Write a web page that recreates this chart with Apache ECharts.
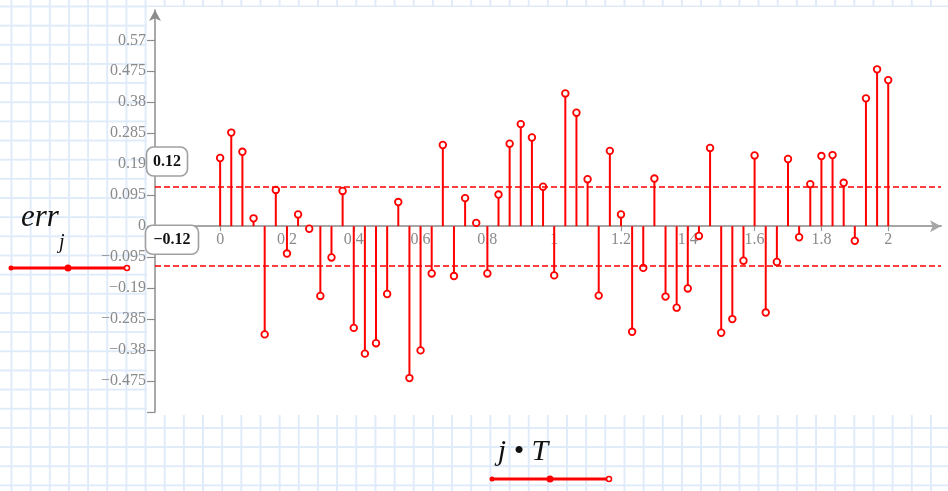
<!DOCTYPE html>
<html><head><meta charset="utf-8">
<script src="https://cdn.jsdelivr.net/npm/echarts@6/dist/echarts.min.js"></script>
<style>
html,body{margin:0;padding:0;overflow:hidden;}
#bg{position:absolute;left:0;top:0;width:948px;height:491px;background-color:#fff;
background-image:linear-gradient(to right,#e0ebfa 1.5px,transparent 1.5px),linear-gradient(to bottom,#e0ebfa 1.5px,transparent 1.5px);
background-size:19.17px 19.17px;background-position:10.5px 5.5px;}
#plotbg{position:absolute;left:147px;top:7px;width:801px;height:408px;background:#fff;}
#chart{position:absolute;left:0;top:0;width:948px;height:491px;}
</style></head>
<body><div id="bg"></div><div id="plotbg"></div><div id="chart"></div>
<script>
// sampling step: x = j*T
const T = 1/30;
// err_j values (j = 0..60)
const errValues = [
  0.209, 0.287, 0.228, 0.024, -0.332, 0.111, -0.084, 0.036, -0.008, -0.214,
  -0.096, 0.108, -0.312, -0.391, -0.359, -0.208, 0.074, -0.466, -0.381, -0.145,
  0.249, -0.153, 0.086, 0.010, -0.145, 0.097, 0.253, 0.313, 0.272, 0.121,
  -0.151, 0.407, 0.348, 0.144, -0.213, 0.231, 0.036, -0.324, -0.128, 0.146,
  -0.216, -0.250, -0.191, -0.030, 0.240, -0.327, -0.285, -0.106, 0.217, -0.265,
  -0.110, 0.206, -0.034, 0.129, 0.215, 0.218, 0.133, -0.045, 0.392, 0.481, 0.448
];
const xTickValues = [0, 0.2, 0.4, 0.6, 0.8, 1, 1.2, 1.4, 1.6, 1.8, 2];
const xTickLabels = ['0', '0.2', '0.4', '0.6', '0.8', '1', '1.2', '1.4', '1.6', '1.8', '2'];
const yTickValues = [0.57, 0.475, 0.38, 0.285, 0.19, 0.095, 0, -0.095, -0.19, -0.285, -0.38, -0.475];
const yTickLabels = ['0.57', '0.475', '0.38', '0.285', '0.19', '0.095', '0', '\u22120.095', '\u22120.19', '\u22120.285', '\u22120.38', '\u22120.475'];
const yAxisBottom = -0.57;
const limitLevels = [0.12, -0.12];
const limitLabels = ['0.12', '\u22120.12'];

const data = errValues.map((v, j) => [j * T, v]);

function pick(values, labels, v) {
  let best = 0, d = Infinity;
  values.forEach((t, i) => { const e = Math.abs(t - v); if (e < d) { d = e; best = i; } });
  return labels[best];
}

const RED = '#ff0000';
const chart = echarts.init(document.getElementById('chart'), null, {renderer: 'canvas'});
const labelFont = 'Liberation Serif';
const gridTop = 10, gridBottom = 79;

chart.setOption({
  animation: false,
  backgroundColor: 'transparent',
  grid: {left: 155, right: 7, top: gridTop, bottom: gridBottom},
  xAxis: {
    type: 'value', min: -0.195, max: 2.158, offset: 0,
    axisLine: {show: true, onZero: false, symbol: ['none', 'arrow'], symbolSize: [9, 11],
      lineStyle: {color: '#a6a6a6', width: 2}},
    axisTick: {show: true, customValues: xTickValues, length: 5, lineStyle: {color: '#999', width: 1.2}},
    axisLabel: {customValues: xTickValues, formatter: v => pick(xTickValues, xTickLabels, v),
      color: '#8a8a8a', fontFamily: labelFont, fontSize: 16, margin: 6},
    splitLine: {show: false}
  },
  yAxis: {
    type: 'value', min: yAxisBottom, max: 0.663,
    axisLine: {show: true, onZero: false, symbol: ['none', 'arrow'], symbolSize: [9, 11],
      lineStyle: {color: '#8c8c8c', width: 1.5}},
    axisTick: {show: true, customValues: yTickValues.concat([yAxisBottom]), length: 8,
      lineStyle: {color: '#8c8c8c', width: 1.2}},
    axisLabel: {customValues: yTickValues, formatter: v => pick(yTickValues, yTickLabels, v),
      color: '#8a8a8a', fontFamily: labelFont, fontSize: 16, margin: 9},
    splitLine: {show: false}
  },
  series: [{
    type: 'custom',
    data: data,
    clip: false,
    renderItem: function (params, api) {
      const x = api.value(0), y = api.value(1);
      const p0 = api.coord([x, 0]);
      const p1 = api.coord([x, y]);
      const r = 3.3;
      const endY = p1[1] + (y >= 0 ? r : -r);
      return {type: 'group', children: [
        {type: 'line', shape: {x1: p0[0], y1: p0[1], x2: p1[0], y2: endY},
          style: {stroke: RED, lineWidth: 2}},
        {type: 'circle', shape: {cx: p1[0], cy: p1[1], r: r},
          style: {fill: '#fff', stroke: RED, lineWidth: 1.8}}
      ]};
    },
    markLine: {
      silent: true, symbol: 'none', label: {show: false},
      lineStyle: {color: RED, type: [6, 3], width: 1.6},
      data: limitLevels.map(v => ({yAxis: v}))
    },
    z: 3
  }]
});

// move the x axis (line, ticks, labels) to y = 0 through the y scale
const zeroY = chart.convertToPixel({yAxisIndex: 0}, 0);
const bottomY = 491 - gridBottom;
chart.setOption({xAxis: {offset: -(bottomY - zeroY)}});

// boxed limit labels, legend-like labels
const graphics = [];
limitLevels.forEach((lv, i) => {
  const py = chart.convertToPixel({yAxisIndex: 0}, lv);
  const w = i === 0 ? 41 : 53;
  const x0 = i === 0 ? 146.5 : 145.5;
  graphics.push({type: 'rect', z: 10, shape: {x: x0, y: py - 40, width: w, height: 29, r: 7},
    style: {fill: '#fff', stroke: '#a0a0a0', lineWidth: 1.6}});
  graphics.push({type: 'text', z: 11, style: {text: limitLabels[i], x: x0 + w / 2, y: py - 25.5,
    align: 'center', verticalAlign: 'middle', font: 'bold 16px "Liberation Serif"', fill: '#111'}});
});
graphics.push(
  {type: 'text', style: {text: 'err', x: 21, y: 218, verticalAlign: 'middle',
    font: 'italic 31px "Liberation Serif"', fill: '#111'}},
  {type: 'text', style: {text: 'j', x: 59, y: 243, verticalAlign: 'middle',
    font: 'italic 20px "Liberation Serif"', fill: '#111'}},
  {type: 'line', shape: {x1: 10, y1: 268, x2: 128, y2: 268}, style: {stroke: RED, lineWidth: 3}},
  {type: 'circle', shape: {cx: 68, cy: 268, r: 3.5}, style: {fill: RED}},
  {type: 'circle', shape: {cx: 11, cy: 268, r: 2.5}, style: {fill: RED}},
  {type: 'circle', shape: {cx: 127, cy: 268, r: 2.5}, style: {fill: '#fff', stroke: RED, lineWidth: 1.5}},
  {type: 'text', style: {text: 'j \u2022 T', x: 523, y: 452, align: 'center', verticalAlign: 'middle',
    font: 'italic 30px "Liberation Serif"', fill: '#111'}},
  {type: 'line', shape: {x1: 491, y1: 479, x2: 610, y2: 479}, style: {stroke: RED, lineWidth: 3}},
  {type: 'circle', shape: {cx: 550, cy: 479, r: 3.5}, style: {fill: RED}},
  {type: 'circle', shape: {cx: 492, cy: 479, r: 2.5}, style: {fill: RED}},
  {type: 'circle', shape: {cx: 609, cy: 479, r: 2.5}, style: {fill: '#fff', stroke: RED, lineWidth: 1.5}}
);
chart.setOption({graphic: graphics});
</script>
</body></html>
